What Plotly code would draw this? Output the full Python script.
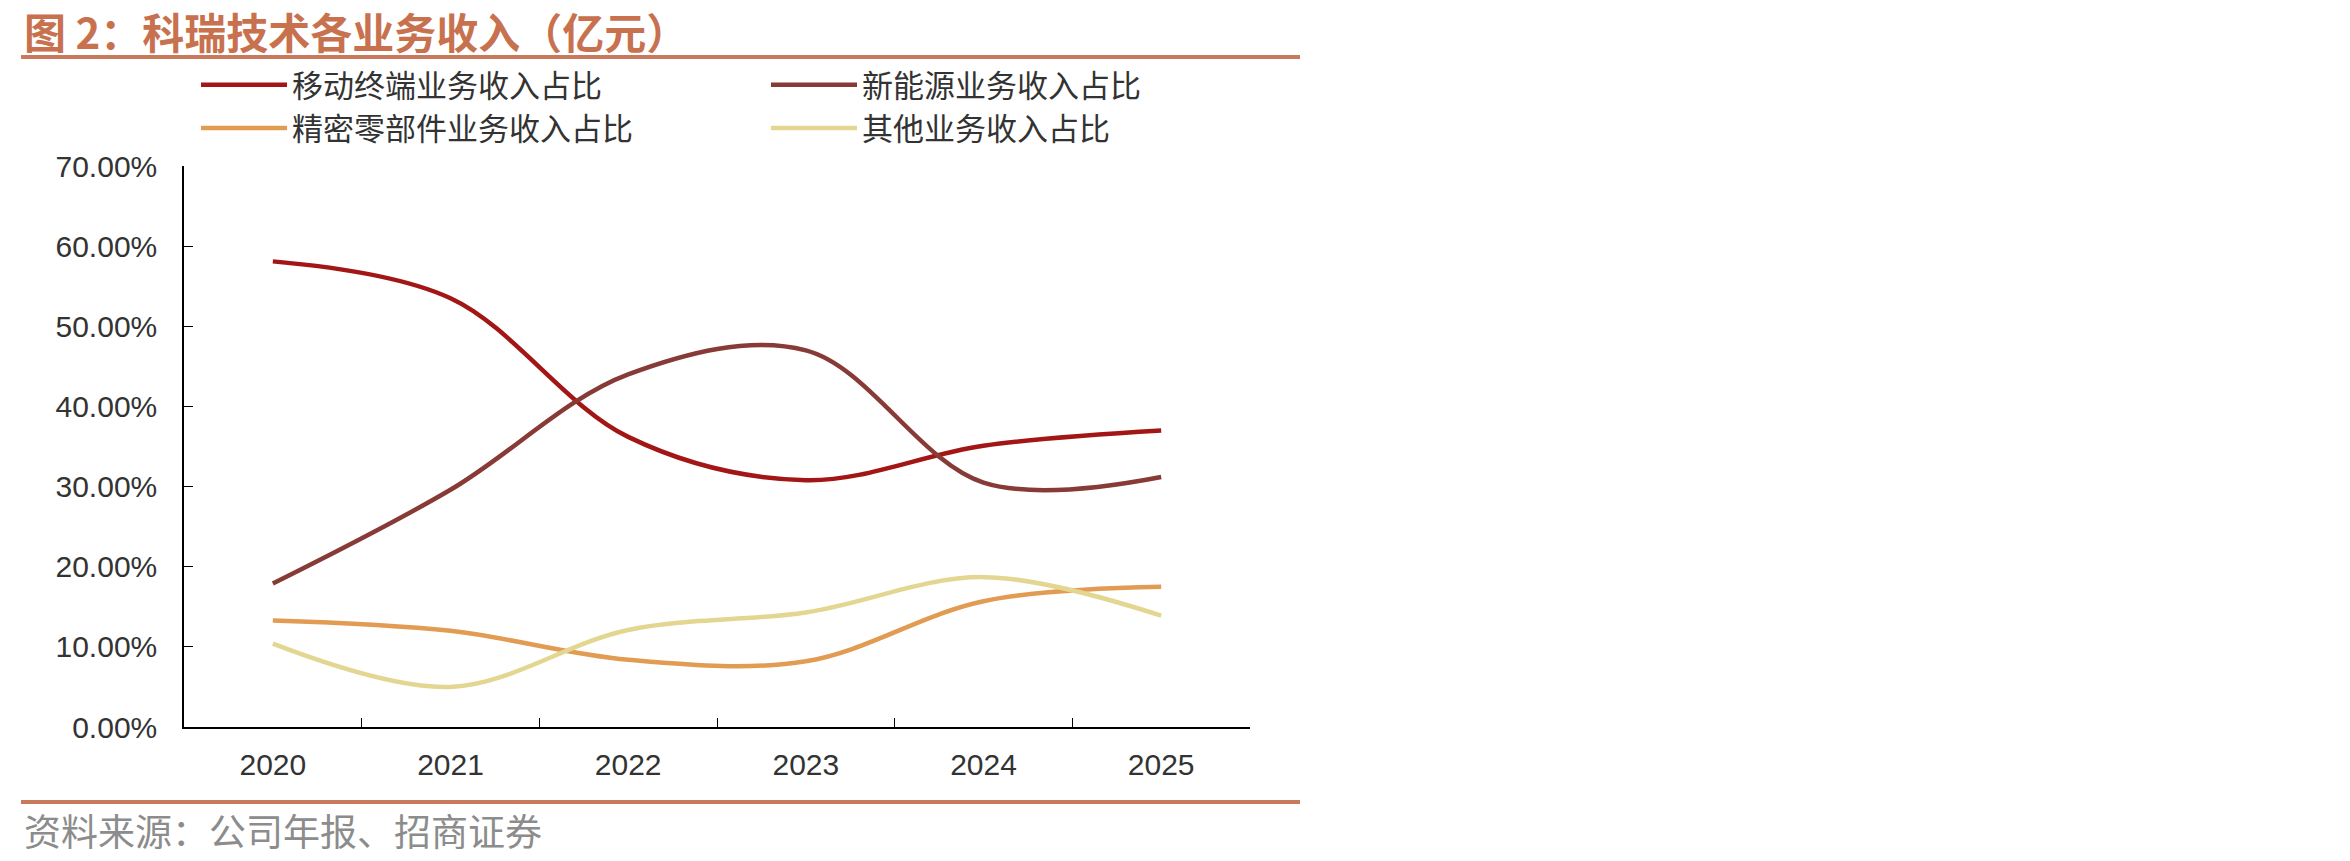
import plotly.graph_objects as go

years = ["2020", "2021", "2022", "2023", "2024", "2025"]
mobile = [0.581, 0.535, 0.362, 0.308, 0.351, 0.370]
newenergy = [0.179, 0.296, 0.440, 0.470, 0.305, 0.312]
precision = [0.133, 0.120, 0.084, 0.082, 0.157, 0.175]
other = [0.104, 0.050, 0.121, 0.143, 0.187, 0.139]

names = ["移动终端业务收入占比", "新能源业务收入占比", "精密零部件业务收入占比", "其他业务收入占比"]
colors = ["#A31616", "#873A36", "#E29B52", "#E3D690"]
legends = ["legend", "legend2", "legend", "legend2"]
series = [mobile, newenergy, precision, other]

W, H = 2350, 861
L, R, T, B = 184, 1100, 166, 134
pw, ph = W - L - R, H - T - B

def px(x):
    return (x - L) / pw

def py(y):
    return (H - B - y) / ph

fig = go.Figure()
for name, vals, col, lg in zip(names, series, colors, legends):
    fig.add_trace(go.Scatter(
        x=years, y=vals, name=name, mode="lines",
        line=dict(color=col, width=4.5, shape="spline", smoothing=1),
        legend=lg,
    ))

cjk = "Noto Sans CJK SC"
legend_common = dict(
    orientation="v", xanchor="left", yanchor="top",
    font=dict(family=cjk, size=31, color="#333333"),
    bgcolor="rgba(0,0,0,0)", itemwidth=86, tracegroupgap=0,
)

fig.update_layout(
    width=W, height=H,
    margin=dict(l=L, r=R, t=T, b=B, pad=0),
    paper_bgcolor="white", plot_bgcolor="white",
    showlegend=True,
    legend=dict(x=px(196), y=py(58), **legend_common),
    legend2=dict(x=px(766), y=py(58), **legend_common),
    xaxis=dict(
        type="category", range=[-0.5, 5.5],
        tickson="boundaries", ticks="inside", ticklen=9,
        tickcolor="black", tickwidth=1.2,
        showline=True, linecolor="black", linewidth=1.5,
        showgrid=False, zeroline=False,
        tickfont=dict(family="Liberation Sans", size=30, color="#333333"),
        ticklabelstandoff=10,
    ),
    yaxis=dict(
        range=[0, 0.7], tickvals=[0, 0.1, 0.2, 0.3, 0.4, 0.5, 0.6, 0.7],
        tickformat=".2%", ticks="inside", ticklen=9,
        tickcolor="black", tickwidth=1.2,
        showline=True, linecolor="black", linewidth=1.5,
        showgrid=False, zeroline=False,
        tickfont=dict(family="Liberation Sans", size=30, color="#333333"),
        ticklabelstandoff=19,
    ),
    shapes=[
        dict(type="line", xref="paper", yref="paper", x0=px(21), x1=px(1300),
             y0=py(57), y1=py(57), line=dict(color="#C97A5C", width=4)),
        dict(type="line", xref="paper", yref="paper", x0=px(21), x1=px(1300),
             y0=py(802), y1=py(802), line=dict(color="#C97A5C", width=4)),
    ],
    annotations=[
        dict(text="<b>图 2：科瑞技术各业务收入（亿元）</b>", xref="paper", yref="paper",
             x=px(23), y=py(31), xanchor="left", yanchor="middle", showarrow=False,
             borderpad=0,
             font=dict(family=cjk, size=42, color="#C8714F")),
        dict(text="资料来源：公司年报、招商证券", xref="paper", yref="paper",
             x=px(22), y=py(830), xanchor="left", yanchor="middle", showarrow=False,
             font=dict(family=cjk, size=37, color="#8C8C8C")),
    ],
)

fig.write_html("out.html")
